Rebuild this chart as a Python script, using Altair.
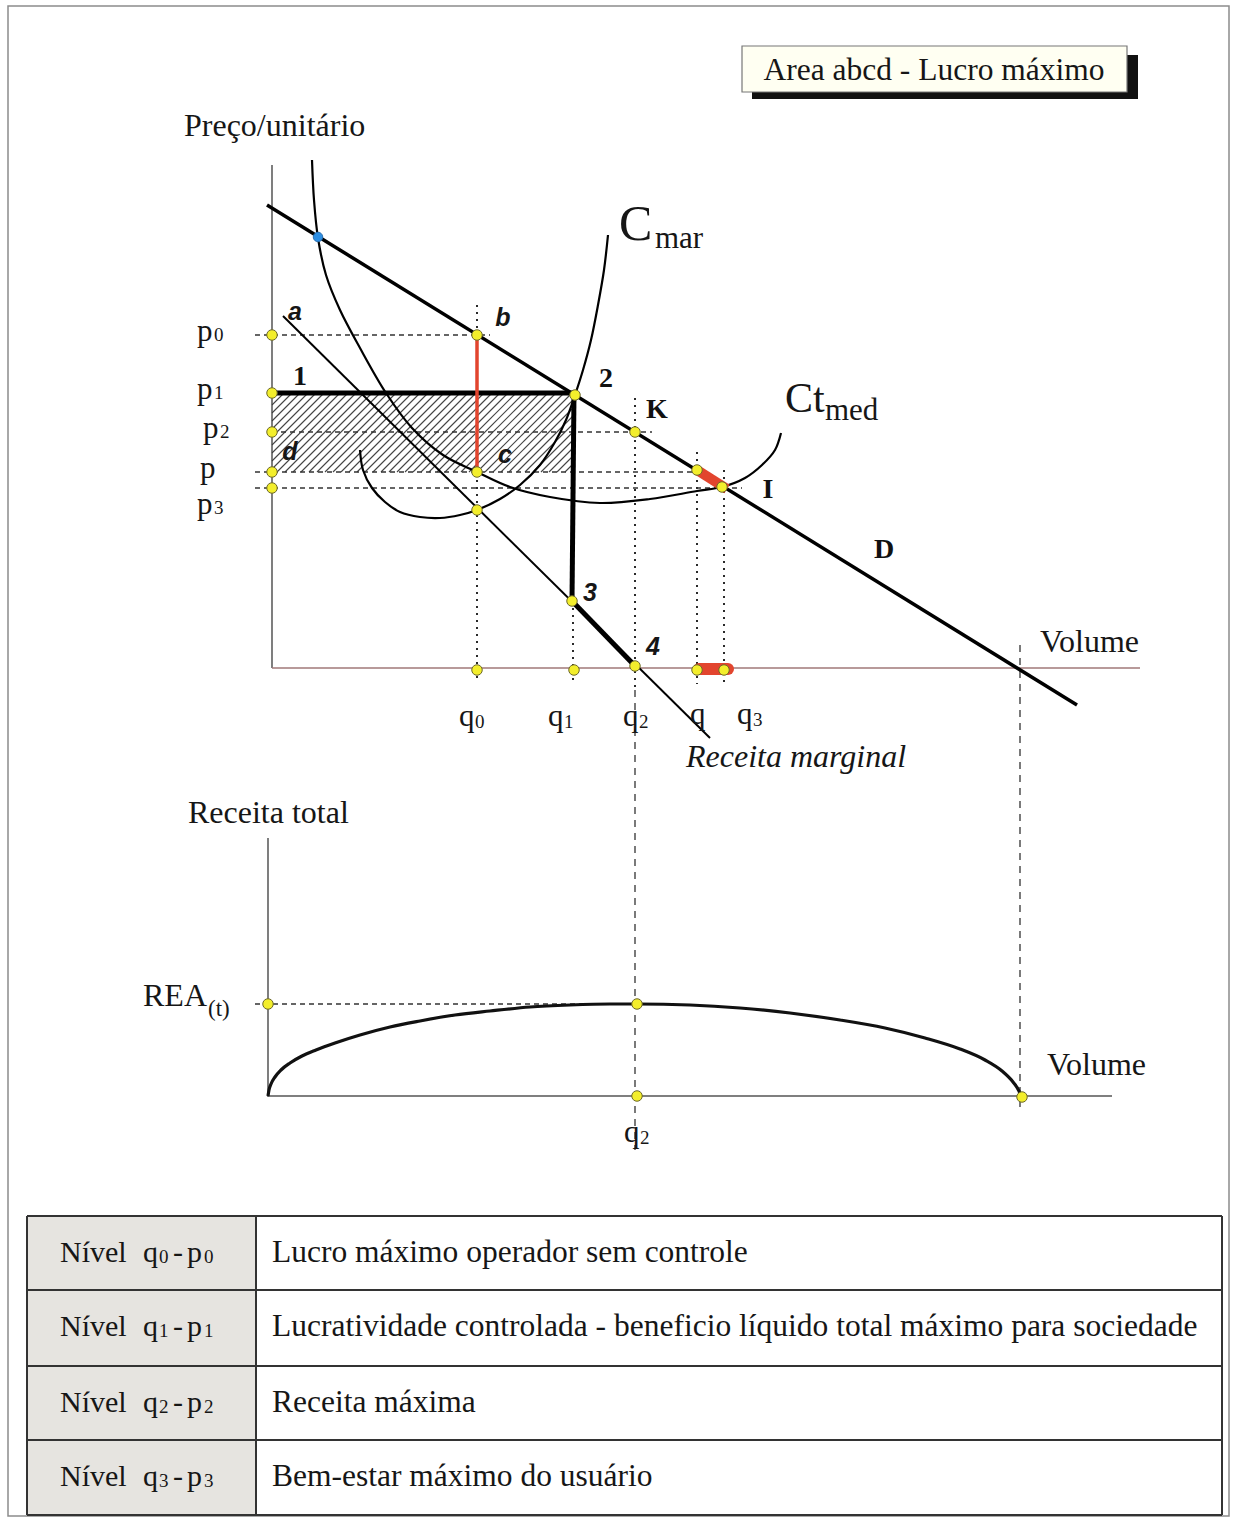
import altair as alt
import pandas as pd

W, H = 1234, 1518

# Drawing units: x grows to the right, y grows downward, one unit per pixel.

# Price levels on the upper panel's vertical axis (p0, p1, p2, p, p3)
PRICE_SUB = ["0", "1", "2", "", "3"]
PRICE_Y = [335, 393, 432, 472, 488]
# Volume levels on the upper panel's horizontal axis (q0, q1, q2, q, q3)
QTY_SUB = ["0", "1", "2", "", "3"]
QTY_X = [477, 573, 635, 697, 724]

# Demand line D and marginal revenue line
DEMAND_X = [267, 1077]
DEMAND_Y = [205, 705]
MR_X = [283, 710]
MR_Y = [316, 738]

# Marginal cost curve (C mar)
CMAR_X = [360, 363, 372, 385, 400, 420, 440, 460, 477, 500, 520, 540, 555, 566, 575, 583, 591, 598, 604, 608]
CMAR_Y = [450, 470, 488, 502, 512, 517, 518, 515, 510, 499, 485, 465, 442, 420, 395, 370, 340, 305, 270, 235]

# Average total cost curve (Ct med)
CTMED_X = [312, 314, 318, 326, 340, 360, 386, 412, 443, 477, 510, 550, 600, 650, 697, 722, 745, 762, 775, 781]
CTMED_Y = [160, 200, 238, 275, 310, 348, 393, 428, 455, 472, 487, 497, 503, 499, 491, 487, 478, 465, 450, 433]

# Total revenue curve (lower panel)
RT_X = [268, 269, 271, 275, 281, 290, 302, 316, 335, 360, 390, 420, 455, 490, 530, 570, 610, 637,
        690, 740, 790, 840, 885, 925, 960, 985, 1002, 1013, 1019, 1021]
RT_Y = [1096, 1090, 1084, 1077, 1070, 1063, 1056, 1050, 1043, 1035, 1027, 1021, 1015, 1011, 1007, 1005, 1004, 1004,
        1005, 1008, 1013, 1020, 1028, 1038, 1049, 1060, 1071, 1082, 1091, 1096]

# Hatched profit rectangle (between p1 and p, from the axis to q1)
PROFIT_BOX = [272, 573, 393, 472]

# Marked points: (x, y)
DOT_X = [272, 272, 272, 272, 272, 477, 575, 635, 697, 722, 477, 477, 572, 635,
         477, 574, 697, 724, 268, 637, 637, 1022]
DOT_Y = [335, 393, 432, 472, 488, 335, 395, 432, 470, 487, 472, 510, 601, 666,
         670, 670, 670, 670, 1004, 1004, 1096, 1097]
BLUE_DOT = [318, 237]

# Table of levels
TABLE_LEFT = ["Nível", "Nível", "Nível", "Nível"]
TABLE_SUB = ["0", "1", "2", "3"]
TABLE_RIGHT = [
    "Lucro máximo operador sem controle",
    "Lucratividade controlada - beneficio líquido total máximo para sociedade",
    "Receita máxima",
    "Bem-estar máximo do usuário",
]
TABLE_ROWS_Y = [1216, 1290, 1366, 1440, 1515]
TABLE_COLS_X = [27, 256, 1222]

SERIF = "Liberation Serif"
SANS = "Liberation Sans"
INK = "#161616"

XS = alt.Scale(domain=[0, W], nice=False, zero=False)
YS = alt.Scale(domain=[0, H], nice=False, zero=False, reverse=True)
X = alt.X("x:Q", scale=XS, axis=None)
Y = alt.Y("y:Q", scale=YS, axis=None)
X2 = alt.X2("x2:Q")
Y2 = alt.Y2("y2:Q")


def segs(rows):
    return pd.DataFrame(rows, columns=["x", "y", "x2", "y2"])


def rules(rows, **style):
    return alt.Chart(segs(rows)).mark_rule(**style).encode(x=X, y=Y, x2=X2, y2=Y2)


def curve(xs, ys, **style):
    df = pd.DataFrame({"x": xs, "y": ys, "i": range(len(xs))})
    return alt.Chart(df).mark_line(**style).encode(x=X, y=Y, order="i:Q")


def texts(items, **style):
    df = pd.DataFrame(items, columns=["t", "x", "y"])
    return alt.Chart(df).mark_text(**style).encode(x=X, y=Y, text="t:N")


def serif(size, **extra):
    style = dict(font=SERIF, fontSize=size, align="left", baseline="alphabetic", color=INK)
    style.update(extra)
    return style


layers = []

# page frame
layers.append(alt.Chart(segs([[8, 6, 1229, 1516]])).mark_rect(
    fill="white", stroke="#8c8c8c", strokeWidth=1.5).encode(x=X, y=Y, x2=X2, y2=Y2))

# hatching of the profit rectangle
x0, x1, y0, y1 = PROFIT_BOX
hatch = []
c = x0 + y0 + 4
while c < x1 + y1:
    xa = max(x0, c - y1)
    xb = min(x1, c - y0)
    if xb > xa:
        hatch.append([xa, c - xa, xb, c - xb])
    c += 8
layers.append(rules(hatch, color="#444444", strokeWidth=1.1))

# axes
layers.append(rules([[272, 165, 272, 668], [268, 838, 268, 1097]], color="#3a3a3a", strokeWidth=1.3))
layers.append(rules([[272, 668, 1140, 668]], color="#a07878", strokeWidth=1.4))
layers.append(rules([[268, 1096, 1112, 1096]], color="#555555", strokeWidth=1.3))

# dashed guides at the price levels
pd_rows = [[255, PRICE_Y[0], 490, PRICE_Y[0]],
           [272, PRICE_Y[2], 652, PRICE_Y[2]],
           [255, PRICE_Y[3], 705, PRICE_Y[3]],
           [255, PRICE_Y[4], 742, PRICE_Y[4]],
           [255, 1004, 640, 1004]]
layers.append(rules(pd_rows, color="#333333", strokeWidth=1.3, strokeDash=[5, 4]))

# dotted guides at the volume levels
qd_rows = [[QTY_X[0], 305, QTY_X[0], 682],
           [QTY_X[1], 601, QTY_X[1], 682],
           [QTY_X[2], 398, QTY_X[2], 690],
           [QTY_X[3], 452, QTY_X[3], 684],
           [QTY_X[4], 470, QTY_X[4], 684]]
layers.append(rules(qd_rows, color="#2a2a2a", strokeWidth=2, strokeDash=[2, 5]))
layers.append(rules([[QTY_X[2], 690, QTY_X[2], 1150], [1020, 645, 1020, 1112]],
                    color="#333333", strokeWidth=1.3, strokeDash=[7, 6]))

# curves
layers.append(curve(CTMED_X, CTMED_Y, color="black", strokeWidth=2.2, interpolate="catmull-rom"))
layers.append(curve(CMAR_X, CMAR_Y, color="black", strokeWidth=2.2, interpolate="catmull-rom"))
layers.append(curve(MR_X, MR_Y, color="black", strokeWidth=2))
layers.append(curve(DEMAND_X, DEMAND_Y, color="black", strokeWidth=3.5))
layers.append(curve(RT_X, RT_Y, color="#111111", strokeWidth=3.2, interpolate="monotone"))

# heavy path 1 - 2 - 3 - 4
layers.append(rules([[272, PRICE_Y[1], 576, PRICE_Y[1]],
                     [574, PRICE_Y[1], 572, 601],
                     [572, 601, 635, 666]], color="black", strokeWidth=5))

# red highlights
layers.append(rules([[477, 338, 477, 470]], color="#e2452e", strokeWidth=3.5))
layers.append(rules([[697, 470, 727, 489]], color="#e2452e", strokeWidth=10))
layers.append(rules([[699, 669, 728, 669]], color="#e2452e", strokeWidth=12, strokeCap="round"))

# marked points
dots = pd.DataFrame({"x": DOT_X, "y": DOT_Y})
layers.append(alt.Chart(dots).mark_circle(size=110, opacity=1, fill="#f3ee2c",
                                          stroke="#6e6a2a", strokeWidth=1).encode(x=X, y=Y))
layers.append(alt.Chart(pd.DataFrame({"x": [BLUE_DOT[0]], "y": [BLUE_DOT[1]]})).mark_circle(
    size=90, opacity=1, fill="#2e8fe3", stroke="#2a6fb0", strokeWidth=1).encode(x=X, y=Y))

# title box with shadow
layers.append(alt.Chart(segs([[752, 55, 1138, 99]])).mark_rect(fill="#111111").encode(x=X, y=Y, x2=X2, y2=Y2))
layers.append(alt.Chart(segs([[742, 46, 1127, 92]])).mark_rect(
    fill="#fffff2", stroke="#777777", strokeWidth=1.2).encode(x=X, y=Y, x2=X2, y2=Y2))
layers.append(texts([["Area abcd - Lucro máximo", 934, 80]], **serif(31.5, align="center")))

# table
layers.append(alt.Chart(segs([[TABLE_COLS_X[0], TABLE_ROWS_Y[0], TABLE_COLS_X[1], TABLE_ROWS_Y[-1]]]))
              .mark_rect(fill="#e6e4e0").encode(x=X, y=Y, x2=X2, y2=Y2))
grid = [[TABLE_COLS_X[0], yy, TABLE_COLS_X[-1], yy] for yy in TABLE_ROWS_Y]
grid += [[xx, TABLE_ROWS_Y[0], xx, TABLE_ROWS_Y[-1]] for xx in TABLE_COLS_X]
layers.append(rules(grid, color="#333333", strokeWidth=2))

base_rows = [TABLE_ROWS_Y[i] + 46 for i in range(4)]
tbl_left, tbl_sub, tbl_right = [], [], []
for i in range(4):
    b = base_rows[i]
    tbl_left += [[TABLE_LEFT[i], 60, b], ["q", 143, b], ["-", 173, b], ["p", 187, b]]
    tbl_sub += [[TABLE_SUB[i], 159, b + 1], [TABLE_SUB[i], 204, b + 1]]
    tbl_right += [[TABLE_RIGHT[i], 272, b]]
layers.append(texts(tbl_left, **serif(30)))
layers.append(texts(tbl_sub, **serif(19)))
layers.append(texts(tbl_right, **serif(31.5)))

# axis titles and plain labels
layers.append(texts([["Preço/unitário", 184, 136], ["Receita total", 188, 823],
                     ["Volume", 1040, 652], ["Volume", 1047, 1075], ["REA", 143, 1006]], **serif(32)))
layers.append(texts([["(t)", 208, 1016]], **serif(23)))

# price and volume level labels
p_main = [["p", 197, PRICE_Y[0] + 6], ["p", 197, PRICE_Y[1] + 6], ["p", 203, PRICE_Y[2] + 6],
          ["p", 200, PRICE_Y[3] + 6], ["p", 197, 514]]
p_sub = [[PRICE_SUB[0], 214, PRICE_Y[0] + 6], [PRICE_SUB[1], 214, PRICE_Y[1] + 6],
         [PRICE_SUB[2], 220, PRICE_Y[2] + 6], [PRICE_SUB[4], 214, 514]]
q_main = [["q", 459, 726], ["q", 548, 726], ["q", 623, 726], ["q", 690, 724], ["q", 737, 724],
          ["q", 624, 1142]]
q_sub = [[QTY_SUB[0], 475, 728], [QTY_SUB[1], 564, 728], [QTY_SUB[2], 639, 728],
         [QTY_SUB[4], 753, 726], ["2", 640, 1144]]
layers.append(texts(p_main + q_main, **serif(31)))
layers.append(texts(p_sub + q_sub, **serif(19)))

# curve names
layers.append(texts([["C", 619, 240]], **serif(50)))
layers.append(texts([["Ct", 785, 412]], **serif(42)))
layers.append(texts([["mar", 655, 248], ["med", 825, 420]], **serif(31)))
layers.append(texts([["Receita marginal", 686, 767]], **serif(32, fontStyle="italic")))

# point labels
layers.append(texts([["1", 300, 377], ["2", 606, 379], ["K", 657, 410], ["I", 768, 490], ["D", 884, 550]],
                    font=SERIF, fontSize=28, fontWeight="bold", align="center", baseline="middle",
                    color="#111111"))
layers.append(texts([["a", 295, 312], ["b", 503, 318], ["c", 505, 455], ["d", 290, 452],
                     ["3", 590, 593], ["4", 653, 647]],
                    font=SANS, fontSize=25, fontWeight="bold", fontStyle="italic", align="center",
                    baseline="middle", color=INK))

chart = alt.layer(*layers).properties(
    width=W, height=H, padding=0, autosize=alt.AutoSizeParams(type="none"),
    background="white",
).configure_view(stroke=None)

chart.save("out.html", embed_options={"renderer": "svg", "actions": False})
